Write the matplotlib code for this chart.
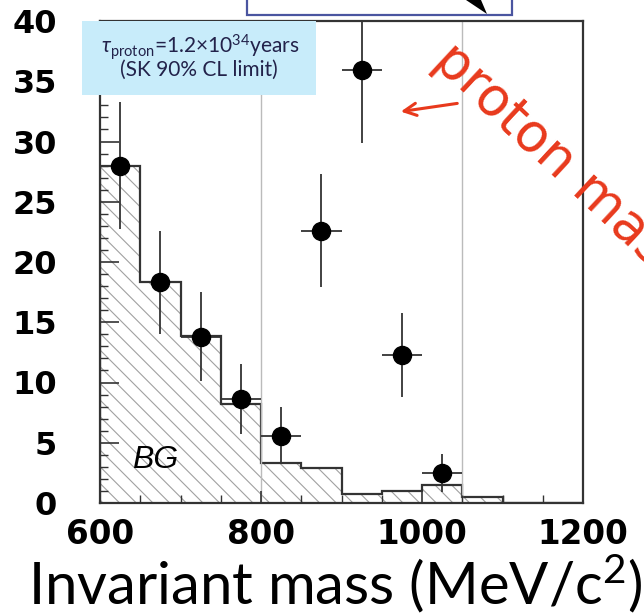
import numpy as np
import matplotlib
matplotlib.use("Agg")
import matplotlib.pyplot as plt
from matplotlib.patches import Rectangle, Polygon

# background histogram (50 MeV bins, 600-1200)
bin_edges = [600, 650, 700, 750, 800, 850, 900, 950, 1000, 1050, 1100, 1150, 1200]
bg_counts = [28.0, 18.3, 13.9, 8.2, 3.3, 2.9, 0.75, 1.0, 1.5, 0.5, 0.0, 0.0]

# data points
mass = [625, 675, 725, 775, 825, 875, 925, 975, 1025]
counts = [28.0, 18.3, 13.8, 8.6, 5.6, 22.6, 35.9, 12.3, 2.5]
count_err = [5.3, 4.3, 3.7, 2.9, 2.4, 4.7, 6.0, 3.5, 1.6]
mass_err = [25, 25, 25, 25, 25, 25, 25, 25, 25]

# signal window
window = [800, 1050]

plt.rcParams['hatch.linewidth'] = 0.8
plt.rcParams['mathtext.fontset'] = 'custom'
plt.rcParams['mathtext.rm'] = 'Lato'
plt.rcParams['mathtext.it'] = 'Lato:italic'

W, H = 644, 615
fig = plt.figure(figsize=(W / 100, H / 100), dpi=100)
ax = fig.add_axes([100 / W, 1 - 503 / H, 483 / W, 482 / H])

# hatched background
ax.stairs(bg_counts, bin_edges, fill=True, facecolor='white', edgecolor='#a0a0a0',
          hatch='\\\\', linewidth=0)
ax.stairs(bg_counts, bin_edges, color='#333333', linewidth=1.6)

for w in window:
    ax.axvline(w, color='#bbbbbb', linewidth=1.0, zorder=1)

ax.errorbar(mass, counts, yerr=count_err, xerr=mass_err, fmt='o', color='black',
            ecolor='#333333', elinewidth=1.3, markersize=13, capsize=0, zorder=5)

ax.text(640, 3.6, 'BG', fontsize=23, style='italic', family='Liberation Sans',
        va='center', ha='left')

ax.set_xlim(600, 1200)
ax.set_ylim(0, 40)
ax.set_xticks([600, 800, 1000, 1200])
ax.set_xticks(np.arange(600, 1201, 50), minor=True)
ax.set_yticks(np.arange(0, 41, 5))
ax.set_yticks(np.arange(0, 41, 1), minor=True)
ax.tick_params(axis='both', which='both', direction='in', colors='#333333',
               labelcolor='black')
ax.tick_params(axis='y', which='major', length=14, width=1.2, pad=31,
               labelsize=23)
ax.tick_params(axis='y', which='minor', length=6, width=1.0)
ax.tick_params(axis='x', which='major', length=9, width=1.2, pad=11,
               labelsize=23.5)
ax.tick_params(axis='x', which='minor', length=6, width=1.0)
for lab in ax.get_xticklabels() + ax.get_yticklabels():
    lab.set_fontweight('bold')
    lab.set_family('DejaVu Sans')
for sp in ax.spines.values():
    sp.set_color('#333333')
    sp.set_linewidth(1.6)

# x axis title
fig.text(335 / W, 1 - 604 / H, 'Invariant mass (MeV/c$^2$)', family='Lato',
         fontsize=41.8, ha='center', va='baseline')

# lifetime box
fig.patches.append(Rectangle((82 / W, 1 - 95 / H), 234 / W, 74 / H,
                             transform=fig.transFigure, facecolor='#c8ecfa',
                             edgecolor='none', zorder=10))
fig.text(200 / W, 1 - 47 / H, r'$\tau_{\rm proton}$=1.2×10$^{34}$years',
         family='Lato', fontsize=15, color='#22224a', ha='center', va='center',
         zorder=11)
fig.text(199 / W, 1 - 70 / H, '(SK 90% CL limit)', family='Lato', fontsize=15,
         color='#22224a', ha='center', va='center', zorder=11)

# cropped box at the top
fig.patches.append(Rectangle((247 / W, 1 - 15 / H), 265 / W, 40 / H,
                             transform=fig.transFigure, facecolor='white',
                             edgecolor='#4a55a0', linewidth=1.6, zorder=10))
fig.patches.append(Polygon([(466 / W, 1.0), (481 / W, 1.0), (487 / W, 1 - 14 / H)],
                           closed=True, transform=fig.transFigure,
                           facecolor='black', edgecolor='none', zorder=11))

# red annotation
fig.text(432 / W, 1 - 63 / H, 'proton mass', family='DejaVu Sans', fontsize=38,
         color='#e8391c', rotation=-43, rotation_mode='anchor', ha='left',
         va='baseline', zorder=12)
ax.annotate('', xy=(398 / W, 1 - 112 / H), xytext=(460 / W, 1 - 103 / H),
            xycoords='figure fraction', textcoords='figure fraction',
            arrowprops=dict(arrowstyle='->', color='#e8391c', lw=2.2,
                            mutation_scale=22))

fig.savefig('out.png', dpi=100)
